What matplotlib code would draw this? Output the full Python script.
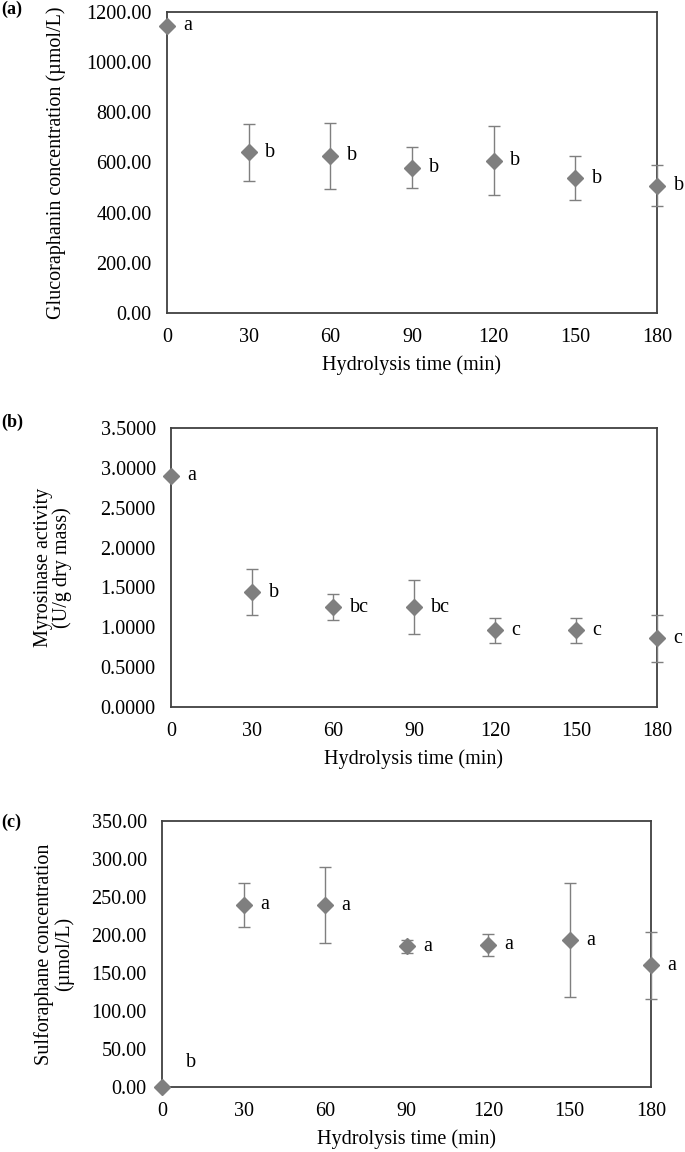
import numpy as np
import matplotlib.pyplot as plt

plt.rcParams['font.family'] = ['Liberation Serif', 'DejaVu Serif']

time_min = [0, 30, 60, 90, 120, 150, 180]

# (a) glucoraphanin
gluco_mean = [1145, 640, 626, 579, 607, 538, 507]
gluco_err = [0, 114, 133, 82, 137, 87, 81]
gluco_letters = ['a', 'b', 'b', 'b', 'b', 'b', 'b']

# (b) myrosinase activity
myro_mean = [2.90, 1.44, 1.25, 1.25, 0.96, 0.96, 0.86]
myro_err = [0, 0.29, 0.165, 0.34, 0.16, 0.16, 0.29]
myro_letters = ['a', 'b', 'bc', 'bc', 'c', 'c', 'c']

# (c) sulforaphane
sulfo_mean = [0, 240, 239, 185, 187, 193, 160]
sulfo_err = [0, 29, 50, 9, 14, 75, 44]
sulfo_letters = ['b', 'a', 'a', 'a', 'a', 'a', 'a']

GREY = '#7f7f7f'
SPINE = '#404040'
FS = 14.5

fig = plt.figure(figsize=(6.85, 11.52), dpi=100)

panels = [
    dict(rect=[0.2438, 0.7283, 0.7153, 0.2613], y=gluco_mean, e=gluco_err,
         letters=gluco_letters, ylim=1200, step=200, fmt='{:.2f}',
         ylabel='Glucoraphanin concentration (µmol/L)', tag='(a)',
         tag_y=0.999, ylabel_x=56 / 685),
    dict(rect=[0.2496, 0.3863, 0.7095, 0.2422], y=myro_mean, e=myro_err,
         letters=myro_letters, ylim=3.5, step=0.5, fmt='{:.4f}',
         ylabel='Myrosinase activity\n(U/g dry mass)', tag='(b)',
         tag_y=0.641, ylabel_x=53 / 685),
    dict(rect=[0.2365, 0.0564, 0.7139, 0.2309], y=sulfo_mean, e=sulfo_err,
         letters=sulfo_letters, ylim=350, step=50, fmt='{:.2f}',
         ylabel='Sulforaphane concentration\n(µmol/L)', tag='(c)',
         tag_y=0.294, ylabel_x=54 / 685),
]

for p in panels:
    ax = fig.add_axes(p['rect'])
    ax.errorbar(time_min, p['y'], yerr=p['e'], fmt='D', color=GREY,
                ecolor=GREY, elinewidth=1.0, capsize=4, capthick=1.0,
                markersize=8, clip_on=False, zorder=3)
    for x, y, lab in zip(time_min, p['y'], p['letters']):
        if y == 0:
            ax.annotate(lab, (x, y), xytext=(17, 18), textcoords='offset points',
                        fontsize=FS, va='center', ha='left', annotation_clip=False)
        else:
            ax.annotate(lab, (x, y), xytext=(12, 0), textcoords='offset points',
                        fontsize=FS, va='center', ha='left', annotation_clip=False)
    ax.set_xlim(0, 180)
    ax.set_ylim(0, p['ylim'])
    ax.set_xticks(time_min)
    yt = np.arange(0, p['ylim'] + p['step'] / 2, p['step'])
    ax.set_yticks(yt)
    ax.set_yticklabels([p['fmt'].format(v) for v in yt])
    ax.tick_params(length=0, labelsize=FS, pad=11)
    for s in ax.spines.values():
        s.set_color(SPINE)
        s.set_linewidth(1.3)
    ax.set_xlabel('Hydrolysis time (min)', fontsize=FS, labelpad=6)
    ax.set_ylabel(p['ylabel'], fontsize=FS, linespacing=1.0)
    ax.yaxis.label.set_verticalalignment('center')
    ax.yaxis.set_label_coords(p['ylabel_x'], 0.5, transform=None)
    lbl_y = ax.get_position().y0 + ax.get_position().height / 2
    ax.yaxis.set_label_coords(p['ylabel_x'], lbl_y, transform=fig.transFigure)
    fig.text(0.002, p['tag_y'], p['tag'], fontsize=13, fontweight='bold',
             ha='left', va='top')

fig.savefig('out.png', dpi=100)
